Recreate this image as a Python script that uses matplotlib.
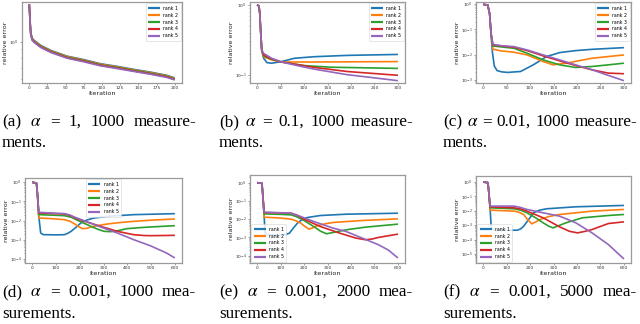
import matplotlib
matplotlib.use("Agg")
import matplotlib.pyplot as plt
from matplotlib.ticker import NullFormatter

COLORS = ["#1f77b4", "#ff7f0e", "#2ca02c", "#d62728", "#9467bd"]
RANKS = ["rank 1", "rank 2", "rank 3", "rank 4", "rank 5"]

# ---------------- (a) alpha = 1, 1000 measurements ----------------
a_it = [0, 1, 2, 4, 7, 16, 30, 52, 75, 98, 120, 143, 166, 189, 200]
a_r1 = [1.667, 1.362, 1.137, 1.047, 1.015, 0.949, 0.886, 0.820, 0.782, 0.739, 0.714, 0.685, 0.660, 0.631, 0.609]
a_r2 = [1.667, 1.353, 1.129, 1.040, 1.008, 0.942, 0.880, 0.815, 0.776, 0.734, 0.709, 0.680, 0.655, 0.627, 0.605]
a_r3 = [1.667, 1.342, 1.120, 1.032, 1.000, 0.935, 0.873, 0.808, 0.770, 0.728, 0.703, 0.675, 0.650, 0.622, 0.600]
a_r4 = [1.667, 1.333, 1.112, 1.025, 0.993, 0.928, 0.867, 0.802, 0.765, 0.723, 0.698, 0.670, 0.645, 0.618, 0.596]
a_r5 = [1.667, 1.324, 1.104, 1.018, 0.986, 0.922, 0.861, 0.797, 0.759, 0.718, 0.693, 0.666, 0.641, 0.613, 0.592]

# ---------------- (b) alpha = 0.1, 1000 measurements ----------------
b_start_it = [0, 4, 6, 8, 10]
b_start_v = [1.0, 0.968, 0.739, 0.386, 0.225]
b_r1_it = [14, 21, 31, 52, 80, 122, 192, 300]
b_r1_v = [0.172, 0.149, 0.146, 0.154, 0.172, 0.181, 0.189, 0.195]
b_r2_it = [14, 31, 52, 122, 300]
b_r2_v = [0.181, 0.163, 0.152, 0.152, 0.154]
b_r3_it = [14, 31, 52, 101, 157, 300]
b_r3_v = [0.185, 0.166, 0.152, 0.135, 0.128, 0.123]
b_r4_it = [14, 31, 52, 122, 192, 300]
b_r4_v = [0.191, 0.168, 0.152, 0.127, 0.111, 0.098]
b_r5_it = [14, 31, 52, 90, 122, 192, 250, 300]
b_r5_v = [0.202, 0.172, 0.152, 0.133, 0.120, 0.100, 0.090, 0.082]

# ---------------- (c) alpha = 0.01, 1000 measurements ----------------
c_start_it = [0, 10, 14, 17]
c_start_v = [1.0, 0.941, 0.428, 0.0695]
c_r1_it = [20, 24, 30, 40, 52, 80, 107, 135, 163, 197, 232, 300]
c_r1_v = [0.012, 0.0035, 0.0023, 0.00205, 0.00195, 0.00213, 0.00391, 0.00834, 0.012, 0.0144, 0.0162, 0.0189]
c_r2_it = [21, 38, 66, 94, 128, 149, 177, 232, 300]
c_r2_v = [0.0163, 0.0141, 0.0124, 0.0097, 0.0053, 0.00391, 0.00455, 0.00716, 0.0097]
c_r3_it = [21, 66, 94, 128, 163, 197, 232, 267, 300]
c_r3_v = [0.022, 0.0178, 0.0113, 0.00615, 0.00391, 0.00307, 0.00336, 0.00391, 0.00455]
c_r4_it = [21, 66, 94, 128, 163, 197, 232, 267, 300]
c_r4_v = [0.0241, 0.0195, 0.0144, 0.00886, 0.00562, 0.00368, 0.00248, 0.00183, 0.00173]
c_r5_it = [21, 38, 66, 94, 128, 163, 197, 232, 267, 300]
c_r5_v = [0.0256, 0.0227, 0.0207, 0.0153, 0.0097, 0.00615, 0.00391, 0.00248, 0.00148, 0.000914]

# ---------------- (d) alpha = 0.001, 1000 measurements ----------------
d_start_it = [0, 18, 22]
d_start_v = [1.0, 0.923, 0.278]
d_r1_it = [28, 32, 36, 45, 53, 100, 136, 150, 164, 185, 205, 230, 261, 316, 427, 600]
d_r1_v = [0.0168, 0.006, 0.00227, 0.0019, 0.00186, 0.00182, 0.00186, 0.0022, 0.00278, 0.0046, 0.00755, 0.0108, 0.0138, 0.0168, 0.0206, 0.0232]
d_r2_it = [28, 80, 136, 160, 177, 195, 212, 230, 247, 280, 316, 370, 427, 510, 600]
d_r2_v = [0.0138, 0.0128, 0.0113, 0.0092, 0.00697, 0.0049, 0.00383, 0.0040, 0.00468, 0.0057, 0.0067, 0.0080, 0.00923, 0.0108, 0.0122]
d_r3_it = [28, 80, 136, 165, 191, 220, 247, 275, 302, 330, 360, 399, 450, 496, 600]
d_r3_v = [0.0206, 0.0195, 0.0182, 0.0150, 0.0104, 0.0072, 0.00506, 0.0036, 0.00278, 0.00267, 0.0030, 0.00383, 0.0043, 0.00468, 0.00548]
d_r4_it = [28, 80, 136, 165, 191, 240, 288, 358, 427, 470, 496, 550, 600]
d_r4_v = [0.0251, 0.0237, 0.0223, 0.0175, 0.0122, 0.0078, 0.00506, 0.00278, 0.00186, 0.00168, 0.00165, 0.00168, 0.00172]
d_r5_it = [28, 80, 136, 160, 177, 233, 288, 358, 427, 496, 565, 600]
d_r5_v = [0.0272, 0.0251, 0.0232, 0.0195, 0.0155, 0.00851, 0.00468, 0.00227, 0.00102, 0.000497, 0.000206, 0.000113]

# ---------------- (e) alpha = 0.001, 2000 measurements ----------------
e_start_it = [0, 21, 26]
e_start_v = [1.0, 0.92, 0.113]
e_r1_it = [30, 34, 48, 103, 120, 138, 155, 172, 192, 214, 269, 379, 600]
e_r1_v = [0.0172, 0.00172, 0.0014, 0.00129, 0.0014, 0.00172, 0.0033, 0.00605, 0.0095, 0.0123, 0.0158, 0.0187, 0.0212]
e_r2_it = [30, 100, 145, 165, 186, 205, 221, 238, 255, 290, 324, 448, 600]
e_r2_v = [0.0129, 0.0115, 0.0100, 0.0082, 0.00605, 0.0039, 0.00285, 0.0034, 0.00433, 0.0056, 0.00658, 0.00846, 0.0104]
e_r3_it = [30, 100, 145, 170, 200, 241, 270, 296, 324, 379, 462, 600]
e_r3_v = [0.0195, 0.0183, 0.0172, 0.0135, 0.00846, 0.00398, 0.0022, 0.00158, 0.00187, 0.00262, 0.00366, 0.00534]
e_r4_it = [30, 100, 145, 170, 200, 269, 352, 421, 462, 490, 517, 600]
e_r4_v = [0.0231, 0.0220, 0.0212, 0.0165, 0.0100, 0.00398, 0.00172, 0.00092, 0.000746, 0.00082, 0.0010, 0.00152]
e_r5_it = [30, 100, 145, 186, 241, 324, 379, 448, 517, 560, 600]
e_r5_v = [0.0241, 0.0225, 0.0212, 0.014, 0.00746, 0.00323, 0.00212, 0.00092, 0.000398, 0.00020, 0.0000746]

# ---------------- (f) alpha = 0.001, 5000 measurements ----------------
f_start_it = [0, 21, 26]
f_start_v = [1.0, 0.898, 0.105]
f_r1_it = [30, 35, 49, 146, 160, 173, 195, 215, 240, 270, 395, 600]
f_r1_v = [0.0138, 0.000652, 0.000448, 0.000448, 0.00055, 0.000851, 0.0026, 0.00725, 0.0110, 0.0138, 0.019, 0.0236]
f_r2_it = [30, 132, 150, 173, 190, 208, 225, 243, 280, 326, 464, 600]
f_r2_v = [0.0111, 0.00948, 0.0082, 0.00555, 0.0024, 0.00124, 0.0017, 0.00248, 0.0040, 0.00555, 0.00948, 0.0124]
f_r3_it = [30, 132, 160, 187, 225, 256, 280, 298, 320, 353, 423, 534, 600]
f_r3_v = [0.0162, 0.0138, 0.0110, 0.00725, 0.0032, 0.00146, 0.00085, 0.000652, 0.0009, 0.00146, 0.00325, 0.00472, 0.00555]
f_r4_it = [30, 132, 160, 187, 256, 326, 367, 402, 430, 464, 534, 600]
f_r4_v = [0.019, 0.0162, 0.0135, 0.00948, 0.00325, 0.000766, 0.000381, 0.000292, 0.00036, 0.000499, 0.00131, 0.00171]
f_r5_it = [30, 132, 160, 187, 256, 326, 395, 464, 534, 600]
f_r5_v = [0.0212, 0.0212, 0.0170, 0.0124, 0.00725, 0.00425, 0.00146, 0.000292, 0.0000448, 0.00000448]

# ---------------- captions ----------------
cap_a = (["(a)", r"$\alpha$", "=", "1,", "1000", "measure-"], "ments.")
cap_b = (["(b)", r"$\alpha$", "=", "0.1,", "1000", "measure-"], "ments.")
cap_c = (["(c)", r"$\alpha$", "=", "0.01,", "1000", "measure-"], "ments.")
cap_d = (["(d)", r"$\alpha$", "=", "0.001,", "1000", "mea-"], "surements.")
cap_e = (["(e)", r"$\alpha$", "=", "0.001,", "2000", "mea-"], "surements.")
cap_f = (["(f)", r"$\alpha$", "=", "0.001,", "5000", "mea-"], "surements.")

W, H = 640, 324
fig = plt.figure(figsize=(W / 100, H / 100), dpi=100)


def box(l, t, r, b):
    return [l / W, 1 - b / H, (r - l) / W, (b - t) / H]


def panel(rect, series, ylim, xticks, legend_kw):
    ax = fig.add_axes(box(*rect))
    for (it, v), c, lab in zip(series, COLORS, RANKS):
        ax.plot(it, v, color=c, lw=1.2, label=lab, solid_capstyle="butt")
    ax.set_yscale("log")
    ax.set_ylim(*ylim)
    ax.set_xticks(xticks)
    ax.set_xlabel("iteration", fontsize=4.6, labelpad=0.8, color="#222222")
    ax.set_ylabel("relative error", fontsize=4.6, labelpad=0.8, color="#222222")
    ax.tick_params(which="both", labelsize=3.2, length=1.4, width=0.4, pad=1.0,
                   color="#555555", labelcolor="#333333")
    ax.tick_params(which="minor", length=0.9)
    for s in ax.spines.values():
        s.set_color("#9a9a9a")
        s.set_linewidth(0.9)
    leg = ax.legend(fontsize=3.4, handlelength=2.6, handletextpad=0.7,
                    borderpad=0.45, labelspacing=0.42, borderaxespad=0.3,
                    framealpha=0.85, fancybox=True, **legend_kw)
    leg.get_frame().set_linewidth(0.4)
    leg.get_frame().set_edgecolor("#cccccc")
    for ln in leg.get_lines():
        ln.set_linewidth(1.6)
    return ax


def join(start_it, start_v, it, v):
    return (start_it + it, start_v + v)


ax_a = panel((22, 2, 182, 83),
             [(a_it, a_r1), (a_it, a_r2), (a_it, a_r3), (a_it, a_r4), (a_it, a_r5)],
             (0.568, 1.72), range(0, 201, 25), dict(loc="upper right"))
ax_a.yaxis.set_minor_formatter(NullFormatter())
ax_a.yaxis.set_label_coords(-0.085, 0.5)

panel((250, 2, 405, 83),
      [join(b_start_it, b_start_v, b_r1_it, b_r1_v), join(b_start_it, b_start_v, b_r2_it, b_r2_v),
       join(b_start_it, b_start_v, b_r3_it, b_r3_v), join(b_start_it, b_start_v, b_r4_it, b_r4_v),
       join(b_start_it, b_start_v, b_r5_it, b_r5_v)],
      (0.076, 1.10), range(0, 301, 50), dict(loc="upper right"))
panel((476, 2, 631, 83),
      [join(c_start_it, c_start_v, c_r1_it, c_r1_v), join(c_start_it, c_start_v, c_r2_it, c_r2_v),
       join(c_start_it, c_start_v, c_r3_it, c_r3_v), join(c_start_it, c_start_v, c_r4_it, c_r4_v),
       join(c_start_it, c_start_v, c_r5_it, c_r5_v)],
      (0.00074, 1.24), range(0, 301, 50), dict(loc="upper right"))
panel((25, 178, 182, 263),
      [join(d_start_it, d_start_v, d_r1_it, d_r1_v), join(d_start_it, d_start_v, d_r2_it, d_r2_v),
       join(d_start_it, d_start_v, d_r3_it, d_r3_v), join(d_start_it, d_start_v, d_r4_it, d_r4_v),
       join(d_start_it, d_start_v, d_r5_it, d_r5_v)],
      (6.2e-5, 1.68), range(0, 601, 100), dict(loc="upper center"))
panel((250, 175, 405, 263),
      [join(e_start_it, e_start_v, e_r1_it, e_r1_v), join(e_start_it, e_start_v, e_r2_it, e_r2_v),
       join(e_start_it, e_start_v, e_r3_it, e_r3_v), join(e_start_it, e_start_v, e_r4_it, e_r4_v),
       join(e_start_it, e_start_v, e_r5_it, e_r5_v)],
      (3.98e-5, 2.62), range(0, 601, 100), dict(loc="lower left"))
panel((476, 176, 631, 263),
      [join(f_start_it, f_start_v, f_r1_it, f_r1_v), join(f_start_it, f_start_v, f_r2_it, f_r2_v),
       join(f_start_it, f_start_v, f_r3_it, f_r3_v), join(f_start_it, f_start_v, f_r4_it, f_r4_v),
       join(f_start_it, f_start_v, f_r5_it, f_r5_v)],
      (2.36e-6, 2.62), range(0, 601, 100), dict(loc="lower left"))

# ---------------- justified captions ----------------
renderer = fig.canvas.get_renderer()
CAP_FS = 12.3
CAP_FONT = dict(fontsize=CAP_FS, family="Liberation Serif", math_fontfamily="stix",
                va="baseline", ha="left", color="black")


def caption(cap, x0, x1, y1, y2):
    words, second = cap
    texts = [fig.text(0, 1 - y1 / H, w, **CAP_FONT) for w in words]
    widths = [t.get_window_extent(renderer).width for t in texts]
    gap = (x1 - x0 - sum(widths)) / (len(words) - 1)
    x = x0
    for t, w in zip(texts, widths):
        t.set_x(x / W)
        x += w + gap
    fig.text(x0 / W, 1 - y2 / H, second, **CAP_FONT)


cols = [(2, 196), (219, 413), (443, 637)]
for cap, (x0, x1) in zip([cap_a, cap_b, cap_c], cols):
    caption(cap, x0, x1, 126, 147)
for cap, (x0, x1) in zip([cap_d, cap_e, cap_f], cols):
    caption(cap, x0, x1, 296, 318)

fig.savefig("out.png", dpi=100)
